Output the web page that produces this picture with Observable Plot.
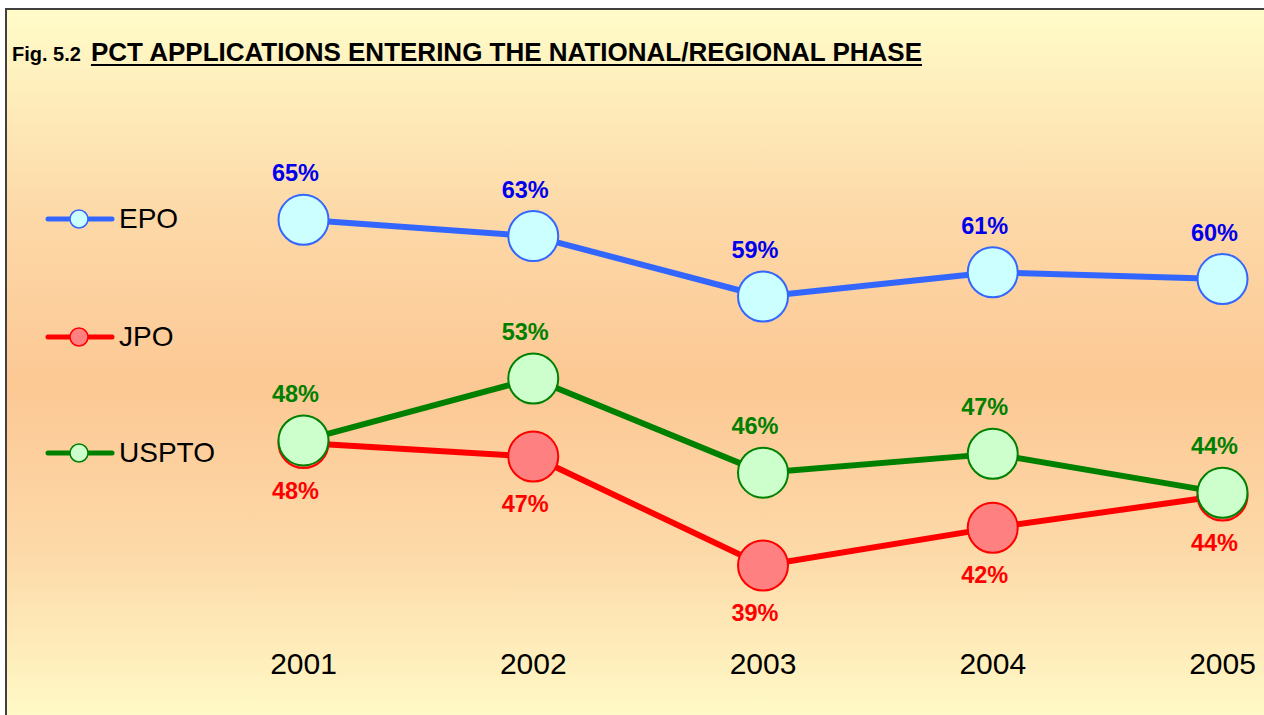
<!DOCTYPE html>
<html><head><meta charset="utf-8">
<script src="https://cdn.jsdelivr.net/npm/d3@7"></script>
<script src="https://cdn.jsdelivr.net/npm/@observablehq/plot@0.6"></script>
<style>
body{margin:0;background:#fff;}
#frame{position:relative;width:1264px;height:715px;overflow:hidden;background:#fff;font-family:"Liberation Sans",Arial,sans-serif;}
#bg{position:absolute;left:5px;top:8px;width:1300px;height:720px;border-left:2px solid #404040;border-top:2px solid #404040;
  background:linear-gradient(to bottom,#FFFCC9 0%,#FDD9A8 28%,#FCC894 52%,#FDD9A8 75%,#FFFCC9 100%);}
#title{position:absolute;left:12px;top:37px;line-height:30px;white-space:nowrap;font-weight:bold;color:#000;}
#title .fig{font-size:20px;}
#title .main{font-size:26px;margin-left:10px;text-decoration:underline;text-decoration-thickness:2px;text-underline-offset:3px;}
.leg{position:absolute;left:45px;height:40px;display:flex;align-items:center;font-size:28px;color:#000;}
.leg svg{width:70px;height:30px;margin-right:4px;}
#chart{position:absolute;left:0;top:0;}
</style>
</head><body>
<div id="frame">
  <div id="bg"></div>
  <div id="title"><span class="fig">Fig. 5.2</span><span class="main">PCT APPLICATIONS ENTERING THE NATIONAL/REGIONAL PHASE</span></div>
  <div id="legend"></div>
  <div id="chart"></div>
</div>
<script>
// ---- data ----
const years = [2001, 2002, 2003, 2004, 2005];
const offices = ["EPO", "JPO", "USPTO"];
const epo   = [64.7, 63.49, 59.0, 60.8, 60.3];
const jpo   = [48.1, 47.1, 39.0, 41.8, 44.2];
const uspto = [48.3, 52.9, 45.9, 47.3, 44.4];

// ---- styles ----
const lineColor  = {EPO: "#3366FF", JPO: "#FF0000", USPTO: "#008000"};
const fillColor  = {EPO: "#CCFFFF", JPO: "#FF8080", USPTO: "#CCFFCC"};
const labelColor = {EPO: "#0000EE", JPO: "#FF0000", USPTO: "#008000"};
const labelSide  = {EPO: "above", JPO: "below", USPTO: "above"};

const seriesValues = {EPO: epo, JPO: jpo, USPTO: uspto};
const rows = offices.flatMap(o => years.map((y, i) => ({office: o, year: y, value: seriesValues[o][i]})));

// ---- legend (HTML) ----
const legendTops = {EPO: 199, JPO: 317, USPTO: 433};
const legend = document.getElementById("legend");
for (const o of offices) {
  const d = document.createElement("div");
  d.className = "leg";
  d.style.top = legendTops[o] + "px";
  d.innerHTML = `<svg viewBox="0 0 70 30"><line x1="3" y1="15" x2="67" y2="15" stroke="${lineColor[o]}" stroke-width="5" stroke-linecap="round"/><circle cx="34" cy="15" r="9" fill="${fillColor[o]}" stroke="${lineColor[o]}" stroke-width="1.5"/></svg><span>${o}</span>`;
  legend.appendChild(d);
}

// ---- chart ----
const fmt = v => Math.round(v) + "%";
const marks = [];
for (const o of offices) {
  const data = rows.filter(r => r.office === o);
  marks.push(Plot.line(data, {x: "year", y: "value", stroke: lineColor[o], strokeWidth: 6}));
  marks.push(Plot.dot(data, {x: "year", y: "value", r: 25, fill: fillColor[o], stroke: lineColor[o], strokeWidth: 2, fillOpacity: 1}));
  marks.push(Plot.text(data, {x: "year", y: "value", text: d => fmt(d.value), dx: -8,
    dy: labelSide[o] === "above" ? -46 : 48, fill: labelColor[o], fontSize: 23.5, fontWeight: "bold"}));
}
marks.push(Plot.axisX({ticks: years, tickFormat: d => String(d), tickSize: 0, tickPadding: 3, fontSize: 30, label: null, fill: "#000"}));

const chart = Plot.plot({
  width: 1264,
  height: 715,
  marginBottom: 66,
  x: {domain: [2001, 2005], range: [303, 1222], label: null},
  y: {domain: [39, 59], range: [565, 296], axis: null},
  style: {background: "transparent", fontFamily: "'Liberation Sans', Arial, sans-serif", overflow: "visible"},
  marks
});
document.getElementById("chart").appendChild(chart);
</script>
</body></html>
